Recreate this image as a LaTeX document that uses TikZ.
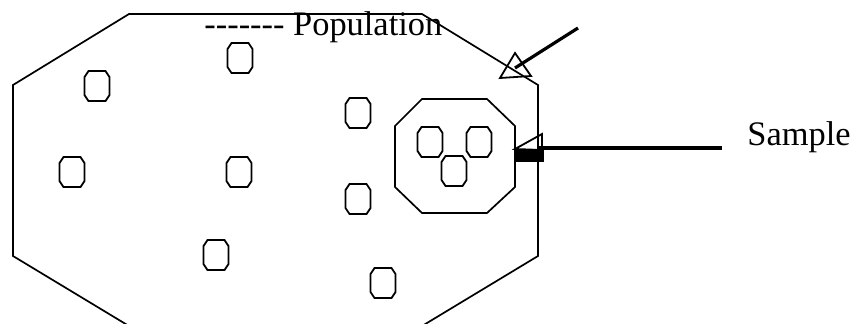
\documentclass[tikz,border=0pt]{standalone}
\usepackage{fontspec}
\setmainfont{Liberation Serif}
\usetikzlibrary{calc, positioning}

\begin{document}
\begin{tikzpicture}[
    x=0.5pt, y=-0.5pt,
    outline/.style={line width=0.85pt, line join=miter},
    lbl/.style={font=\fontsize{17.2}{20}\selectfont, inner sep=0pt, anchor=base west},
    pointer/.style={line width=1.6pt},
    tri/.style={line width=0.9pt, line join=miter},
    blob/.pic={\draw[line width=0.9pt] (-12.5,-9) -- (-8.5,-15) -- (8.5,-15) -- (12.5,-9)
                -- (12.5,9) -- (8.5,15) -- (-8.5,15) -- (-12.5,9) -- cycle;}
]
    \useasboundingbox (0,0) rectangle (855,323);
    \clip (0,0) rectangle (855,323);

    % population
    \draw[outline] (129,14) -- (422,14) -- (538,85) -- (538,256) -- (422,326)
        -- (129,326) -- (13,256) -- (13,85) -- cycle;
    \node[lbl] (pop) at (204,35) {-\kern0pt-\kern0pt-\kern0pt-\kern0pt-\kern0pt-\kern0pt- Population};

    % sample
    \draw[outline] (422,99) -- (487,99) -- (515,126) -- (515,187) -- (487,213)
        -- (422,213) -- (395,187) -- (395,126) -- cycle;
    \node[lbl] (sample) at (747,145) {Sample};

    % units
    \foreach \ux/\uy in {240/58, 97/86, 358/113, 72/172, 239/172, 358/199,
                         216/255, 383/283, 430/142, 479/142, 454/171}
        \pic at (\ux,\uy) {blob};

    % arrows
    \coordinate (poptail) at (578,28);
    \coordinate (pophead) at (515,68);
    \draw[pointer] (poptail) -- (pophead);
    \draw[tri] (515,53) -- (500,78) -- (531,76) -- cycle;

    \coordinate (samptail) at (722,148);
    \coordinate (samphead) at (538,148);
    \draw[pointer] (samptail) -- (samphead);
    \draw[tri] (515,149) -- (542,134) -- (542,150) -- cycle;
    \fill (514,150) rectangle (544,162);
\end{tikzpicture}
\end{document}
